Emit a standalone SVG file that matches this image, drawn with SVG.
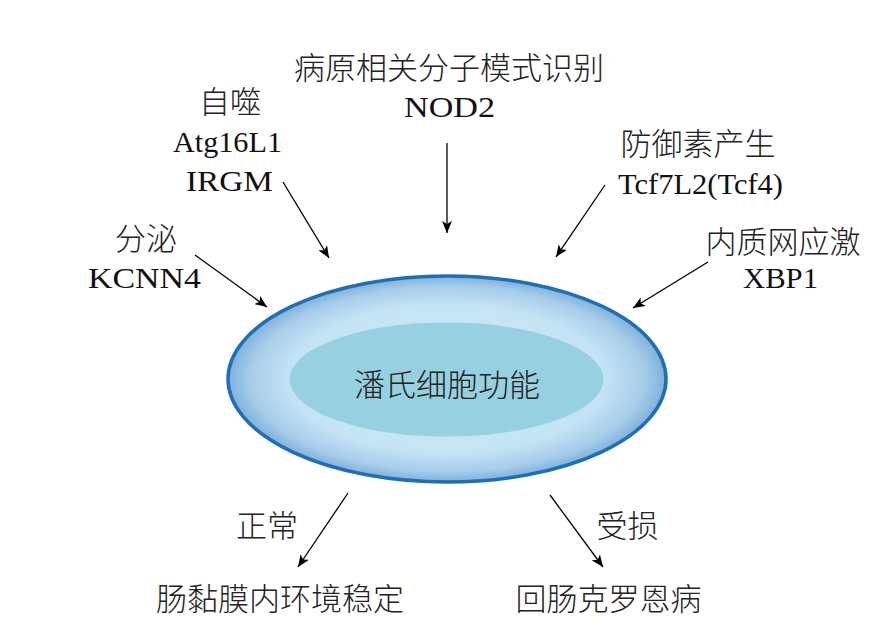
<svg xmlns="http://www.w3.org/2000/svg" width="877" height="637" viewBox="0 0 877 637">
<defs>
<radialGradient id="g" cx="0.5" cy="0.5" r="0.5">
<stop offset="0" stop-color="#cdebf7"/>
<stop offset="0.72" stop-color="#c4e4f5"/>
<stop offset="0.9" stop-color="#a6cdea"/>
<stop offset="1" stop-color="#7fb0da"/>
</radialGradient>
<marker id="ah" viewBox="0 0 12 10" refX="12" refY="5" markerWidth="12" markerHeight="10" markerUnits="userSpaceOnUse" orient="auto">
<path d="M0,0 L12,5 L0,10 L3,5 z" fill="#000"/>
</marker>
<style>
.cjk{font-family:"Noto Sans CJK SC","Noto Sans",sans-serif;font-size:31px;fill:#222;text-anchor:middle;font-weight:300}
.lat{font-family:"Liberation Serif","DejaVu Serif",serif;font-size:29.5px;fill:#111;text-anchor:middle}
.arr{stroke:#000;stroke-width:1.3;fill:none;marker-end:url(#ah)}
</style>
</defs>
<rect width="877" height="637" fill="#fff"/>
<g id="paneth">
<ellipse cx="447" cy="379" rx="219" ry="103" fill="url(#g)" stroke="#1f6fb5" stroke-width="3.5"/>
<ellipse cx="446.5" cy="379.5" rx="157" ry="57" fill="#96d0e1"/>
<text class="cjk" x="447" y="396">潘氏细胞功能</text>
</g>
<g id="nod2">
<text class="cjk" x="449" y="79">病原相关分子模式识别</text>
<text class="lat" x="449.5" y="117" textLength="91" lengthAdjust="spacingAndGlyphs">NOD2</text>
</g>
<g id="autophagy">
<text class="cjk" x="230" y="113">自噬</text>
<text class="lat" x="227.5" y="152" textLength="109" lengthAdjust="spacingAndGlyphs">Atg16L1</text>
<text class="lat" x="229.5" y="191" textLength="87" lengthAdjust="spacingAndGlyphs">IRGM</text>
</g>
<g id="secretion">
<text class="cjk" x="146" y="250">分泌</text>
<text class="lat" x="144.5" y="288" textLength="113" lengthAdjust="spacingAndGlyphs">KCNN4</text>
</g>
<g id="defensin">
<text class="cjk" x="698" y="155">防御素产生</text>
<text class="lat" x="700.5" y="194" textLength="165" lengthAdjust="spacingAndGlyphs">Tcf7L2(Tcf4)</text>
</g>
<g id="er-stress">
<text class="cjk" x="783" y="253">内质网应激</text>
<text class="lat" x="780.5" y="288" textLength="75" lengthAdjust="spacingAndGlyphs">XBP1</text>
</g>
<g id="normal">
<text class="cjk" x="267" y="537">正常</text>
<text class="cjk" x="280" y="610">肠黏膜内环境稳定</text>
</g>
<g id="damaged">
<text class="cjk" x="627.5" y="537">受损</text>
<text class="cjk" x="608.5" y="610">回肠克罗恩病</text>
</g>
<g id="connectors">
<line class="arr" x1="447" y1="143" x2="447" y2="233"/>
<line class="arr" x1="283" y1="182" x2="329" y2="258"/>
<line class="arr" x1="195" y1="255" x2="267" y2="307"/>
<line class="arr" x1="605" y1="185" x2="556" y2="257"/>
<line class="arr" x1="708" y1="262" x2="633" y2="308"/>
<line class="arr" x1="348" y1="493" x2="298" y2="567"/>
<line class="arr" x1="550" y1="495" x2="603" y2="567"/>
</g>
</svg>
